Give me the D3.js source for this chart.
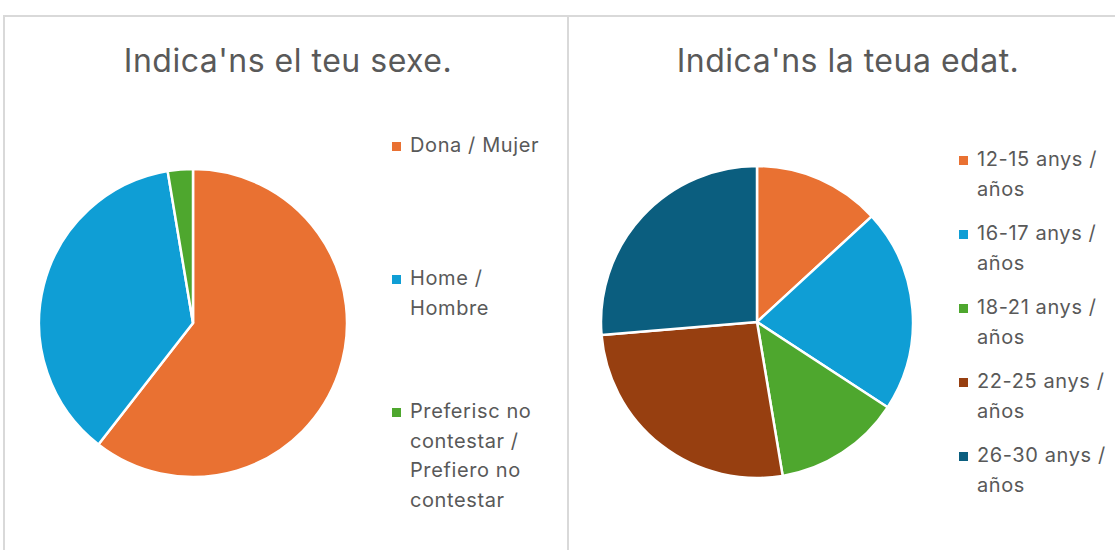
<!DOCTYPE html>
<html>
<head>
<meta charset="utf-8">
<script src="https://cdn.jsdelivr.net/npm/d3@7"></script>
<style>
	body { margin: 0; background: #fff; }
	text { font-family: Inter, "Open Sans", sans-serif; fill: #595959; }
	.title { font-size: 32px; letter-spacing: 0.5px; }
	.legend { font-size: 20px; letter-spacing: 0.6px; }
</style>
</head>
<body>
<svg></svg>
<script>

// chart 1: sex
const sexTitle = "Indica'ns el teu sexe.";
const sexCategories = ["Dona / Mujer", "Home / Hombre", "Preferisc no contestar / Prefiero no contestar"];
const sexValues = [23, 14, 1];
const sexColors = ["#E97132", "#0F9ED5", "#4EA72E"];

// chart 2: age
const ageTitle = "Indica'ns la teua edat.";
const ageCategories = ["12-15 anys / años", "16-17 anys / años", "18-21 anys / años", "22-25 anys / años", "26-30 anys / años"];
const ageValues = [5, 8, 5, 10, 10];
const ageColors = ["#E97132", "#0F9ED5", "#4EA72E", "#973F10", "#0B5E7F"];

const W = 1115, H = 550;
const svg = d3.select('svg').attr('width', W).attr('height', H);

// panel borders
const border = svg.append('g').attr('stroke', '#d9d9d9').attr('stroke-width', 2);
border.append('line').attr('x1', 3).attr('x2', W).attr('y1', 16).attr('y2', 16);
border.append('line').attr('x1', 4).attr('x2', 4).attr('y1', 16).attr('y2', H);
border.append('line').attr('x1', 568).attr('x2', 568).attr('y1', 16).attr('y2', H);

//Split a label into lines no wider than maxW
function wrap(label, maxW) {
	const probe = svg.append('text').attr('class', 'legend');
	const words = label.split(' ');
	const lines = [];
	let cur = '';
	words.forEach(function(w) {
		const test = cur ? cur + ' ' + w : w;
		probe.text(test);
		if (cur && probe.node().getComputedTextLength() > maxW) {
			lines.push(cur);
			cur = w;
		} else {
			cur = test;
		}
	});
	if (cur) lines.push(cur);
	probe.remove();
	return lines;
}

function render_pie(opts) {
	const g = svg.append('g');

	g.append('text')
		.attr('class', 'title')
		.attr('x', opts.titleX)
		.attr('y', 72)
		.attr('text-anchor', 'middle')
		.text(opts.title);

	const pie = d3.pie().sort(null).value(d => d)(opts.values);
	const arc = d3.arc().innerRadius(0).outerRadius(opts.r);

	g.append('g')
		.attr('transform', 'translate(' + opts.cx + ',' + opts.cy + ')')
		.selectAll('path')
		.data(pie)
		.join('path')
		.attr('d', arc)
		.attr('fill', (d, i) => opts.colors[i])
		.attr('stroke', '#fff')
		.attr('stroke-width', 2.5)
		.attr('stroke-linejoin', 'round');

	//Legend
	const leg = g.append('g');
	opts.categories.forEach(function(c, i) {
		const y0 = opts.legY + i * opts.legStep;
		leg.append('rect')
			.attr('x', opts.legX)
			.attr('y', y0 - 10)
			.attr('width', 9)
			.attr('height', 9)
			.attr('fill', opts.colors[i]);
		const lines = wrap(c, 145);
		const t = leg.append('text')
			.attr('class', 'legend')
			.attr('x', opts.legX + 18)
			.attr('y', y0);
		lines.forEach(function(l, j) {
			t.append('tspan')
				.attr('x', opts.legX + 18)
				.attr('y', y0 + j * 29.5)
				.text(l);
		});
	});
}

render_pie({
	title: sexTitle, titleX: 288,
	categories: sexCategories, values: sexValues, colors: sexColors,
	cx: 193, cy: 323, r: 154,
	legX: 392, legY: 152, legStep: 133
});

render_pie({
	title: ageTitle, titleX: 848,
	categories: ageCategories, values: ageValues, colors: ageColors,
	cx: 757, cy: 322, r: 156,
	legX: 959, legY: 166, legStep: 74
});

</script>
</body>
</html>
